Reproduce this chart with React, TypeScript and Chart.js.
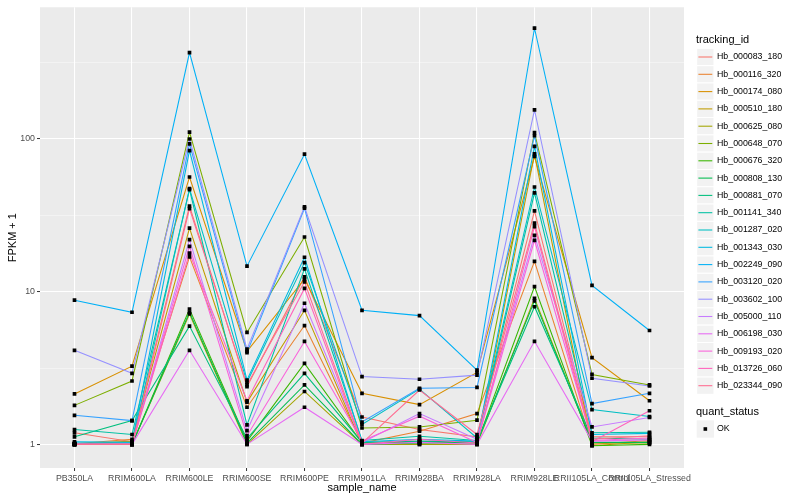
import React, { useEffect, useRef } from "react";
import { Chart, registerables } from "chart.js";

Chart.register(...registerables);

const categories = [
  "PB350LA",
  "RRIM600LA",
  "RRIM600LE",
  "RRIM600SE",
  "RRIM600PE",
  "RRIM901LA",
  "RRIM928BA",
  "RRIM928LA",
  "RRIM928LE",
  "RRII105LA_Control",
  "RRII105LA_Stressed",
];

const trackingIds = [
  "Hb_000083_180",
  "Hb_000116_320",
  "Hb_000174_080",
  "Hb_000510_180",
  "Hb_000625_080",
  "Hb_000648_070",
  "Hb_000676_320",
  "Hb_000808_130",
  "Hb_000881_070",
  "Hb_001141_340",
  "Hb_001287_020",
  "Hb_001343_030",
  "Hb_002249_090",
  "Hb_003120_020",
  "Hb_003602_100",
  "Hb_005000_110",
  "Hb_006198_030",
  "Hb_009193_020",
  "Hb_013726_060",
  "Hb_023344_090",
];

const hueColors = [
  "#F8766D", "#EA8331", "#D89000", "#C09B00", "#A3A500",
  "#7CAE00", "#39B600", "#00BB4E", "#00BF7D", "#00C1A3",
  "#00BFC4", "#00BAE0", "#00B0F6", "#35A2FF", "#9590FF",
  "#C77CFF", "#E76BF3", "#FA62DB", "#FF62BC", "#FF6C91",
];

// FPKM + 1 values per sample (order of categories)
const hb000083 = [1.19, 1.04, 36.4, 2.39, 12.5, 1.51, 1.25, 1.12, 33.8, 1.12, 1.12];
const hb000116 = [1.01, 1.08, 16.9, 1.75, 6.0, 1.02, 1.22, 1.59, 15.8, 1.0, 1.06];
const hb000174 = [2.14, 3.25, 56.4, 4.07, 12.1, 2.16, 1.82, 2.96, 76.8, 3.7, 1.93];
const hb000510 = [1.0, 1.05, 26.1, 1.89, 7.55, 1.0, 1.0, 1.0, 80, 0.98, 1.04];
const hb000625 = [1.0, 1.0, 7.15, 1.0, 2.22, 1.0, 1.0, 1.0, 9.03, 1.02, 1.02];
const hb000648 = [1.8, 2.6, 111, 5.41, 22.8, 1.28, 1.3, 1.44, 110, 2.87, 2.45];
const hb000676 = [1.0, 1.0, 7.7, 1.05, 3.39, 1.02, 1.03, 1.02, 10.8, 0.98, 1.0];
const hb000808 = [1.0, 1.0, 7.33, 1.02, 2.45, 1.0, 1.02, 1.03, 8.71, 1.03, 1.03];
const hb000881 = [1.12, 1.43, 5.95, 1.09, 2.92, 1.03, 1.05, 1.04, 7.97, 1.1, 1.08];
const hb001141 = [1.25, 1.16, 46.6, 1.34, 14.1, 1.06, 1.13, 1.06, 44.4, 1.19, 1.2];
const hb001287 = [1.02, 1.02, 47.4, 2.55, 15.5, 1.35, 2.3, 1.1, 48.5, 1.69, 1.52];
const hb001343 = [1.04, 1.03, 84, 2.64, 16.8, 1.04, 1.08, 1.05, 89.5, 1.16, 1.18];
const hb002249 = [8.8, 7.33, 368, 14.7, 79.5, 7.55, 6.97, 3.06, 532, 11.0, 5.57];
const hb003120 = [1.55, 1.43, 93, 3.99, 35.2, 1.4, 2.33, 2.36, 105, 1.85, 2.16];
const hb003602 = [4.13, 2.92, 100, 4.2, 36, 2.78, 2.67, 2.84, 155, 2.71, 2.41];
const hb005000 = [1.0, 1.0, 21.9, 1.23, 8.4, 1.03, 1.59, 1.08, 23.4, 1.3, 1.5];
const hb006198 = [1.0, 1.0, 4.13, 1.0, 1.75, 1.0, 1.03, 1.0, 4.73, 1.05, 1.07];
const hb009193 = [1.0, 1.0, 19.8, 1.14, 4.72, 1.05, 1.53, 1.03, 21.7, 1.06, 1.1];
const hb013726 = [1.0, 1.0, 17.9, 1.93, 10.5, 1.0, 1.08, 1.02, 26.7, 1.04, 1.66];
const hb023344 = [1.0, 1.0, 35, 2.45, 11.6, 1.02, 2.27, 1.16, 28.1, 1.08, 1.14];

const seriesValues = [
  hb000083, hb000116, hb000174, hb000510, hb000625,
  hb000648, hb000676, hb000808, hb000881, hb001141,
  hb001287, hb001343, hb002249, hb003120, hb003602,
  hb005000, hb006198, hb009193, hb013726, hb023344,
];

const yTickValues = [1, 3.1623, 10, 31.623, 100, 316.23];
const yMajor = [1, 10, 100];
const quantStatus = ["OK"];

const FONT = '"Liberation Sans", Arial, Helvetica, sans-serif';

const isMajor = (v: number | undefined) =>
  v !== undefined && yMajor.some((m) => Math.abs(m - v) < 1e-6);

export default function App() {
  const canvasRef = useRef<HTMLCanvasElement | null>(null);

  useEffect(() => {
    document.body.style.margin = "0";
    const canvas = canvasRef.current;
    if (!canvas) return;

    const lineDatasets = seriesValues.map((vals, i) => ({
      type: "line" as const,
      label: trackingIds[i],
      data: vals.map((v, j) => ({ x: j, y: v })),
      borderColor: hueColors[i],
      backgroundColor: hueColors[i],
      borderWidth: 1.07,
      pointRadius: 0,
      tension: 0,
      fill: false,
      order: 40 - i,
    }));

    const pointDataset = {
      type: "line" as const,
      label: "points",
      data: seriesValues.flatMap((vals) => vals.map((v, j) => ({ x: j, y: v }))),
      showLine: false,
      pointStyle: "rect" as const,
      pointRadius: 2.6,
      pointBackgroundColor: "#000000",
      pointBorderColor: "#000000",
      pointBorderWidth: 0,
      order: 0,
    };

    const bgPlugin = {
      id: "ggBackground",
      beforeDraw(chart: any) {
        const { ctx, chartArea } = chart;
        ctx.save();
        ctx.fillStyle = "#FFFFFF";
        ctx.fillRect(0, 0, chart.width, chart.height);
        ctx.fillStyle = "#EBEBEB";
        ctx.fillRect(
          chartArea.left,
          chartArea.top,
          chartArea.right - chartArea.left,
          chartArea.bottom - chartArea.top
        );
        ctx.restore();
      },
    };

    const legendPlugin = {
      id: "ggLegend",
      afterDraw(chart: any) {
        const ctx = chart.ctx;
        const keyX = 696.7;
        const keySize = 17.28;
        const textX = 717;
        ctx.save();
        ctx.textAlign = "left";
        ctx.textBaseline = "middle";
        ctx.fillStyle = "#000000";
        ctx.font = `11px ${FONT}`;
        ctx.fillText("tracking_id", 696, 40);
        ctx.font = `8.8px ${FONT}`;
        trackingIds.forEach((id, i) => {
          const cy = 57 + i * 17.3;
          ctx.fillStyle = "#F2F2F2";
          ctx.fillRect(keyX, cy - keySize / 2, keySize, keySize);
          ctx.strokeStyle = "#FFFFFF";
          ctx.lineWidth = 1;
          ctx.strokeRect(keyX, cy - keySize / 2, keySize, keySize);
          ctx.strokeStyle = hueColors[i];
          ctx.lineWidth = 1.07;
          ctx.beginPath();
          ctx.moveTo(keyX + 1.7, cy);
          ctx.lineTo(keyX + keySize - 1.7, cy);
          ctx.stroke();
          ctx.fillStyle = "#000000";
          ctx.fillText(id, textX, cy);
        });
        ctx.font = `11px ${FONT}`;
        ctx.fillText("quant_status", 696, 412);
        ctx.font = `8.8px ${FONT}`;
        quantStatus.forEach((q, i) => {
          const cy = 429 + i * 17.3;
          ctx.fillStyle = "#F2F2F2";
          ctx.fillRect(keyX, cy - keySize / 2, keySize, keySize);
          ctx.fillStyle = "#000000";
          ctx.fillRect(keyX + keySize / 2 - 1.8, cy - 1.8, 3.6, 3.6);
          ctx.fillText(q, textX, cy);
        });
        ctx.restore();
      },
    };

    const chart = new Chart(canvas, {
      type: "line",
      data: { datasets: [...lineDatasets, pointDataset] as any },
      options: {
        responsive: false,
        maintainAspectRatio: false,
        animation: false,
        devicePixelRatio: 1,
        layout: { padding: { left: 0, right: 116, top: 5, bottom: 0 } },
        plugins: {
          legend: { display: false },
          tooltip: { enabled: false },
        },
        scales: {
          x: {
            type: "linear",
            min: -0.6,
            max: 10.6,
            afterBuildTicks: (s: any) => {
              s.ticks = categories.map((_, i) => ({ value: i }));
            },
            afterFit: (s: any) => {
              s.height = 32;
            },
            border: { display: false },
            grid: {
              color: "#FFFFFF",
              lineWidth: 1.07,
              drawTicks: true,
              tickLength: 3,
              tickColor: "#333333",
              tickWidth: 1,
            },
            ticks: {
              autoSkip: false,
              maxRotation: 0,
              minRotation: 0,
              padding: 2,
              color: "#4D4D4D",
              font: { family: FONT, size: 8.8 },
              callback: (v: any) => categories[Math.round(Number(v))] ?? "",
            },
            title: {
              display: true,
              text: "sample_name",
              color: "#000000",
              font: { family: FONT, size: 11 },
              padding: { top: 0, bottom: 5 },
            },
          },
          y: {
            type: "logarithmic",
            min: 0.714,
            max: 729,
            afterBuildTicks: (s: any) => {
              s.ticks = yTickValues.map((v) => ({ value: v }));
            },
            afterFit: (s: any) => {
              s.width = 40;
            },
            border: { display: false },
            grid: {
              color: (c: any) => (isMajor(c.tick?.value) ? "#FFFFFF" : "rgba(255,255,255,0.75)"),
              lineWidth: (c: any) => (isMajor(c.tick?.value) ? 1.07 : 0.55),
              drawTicks: true,
              tickLength: 3,
              tickColor: (c: any) => (isMajor(c.tick?.value) ? "#333333" : "rgba(0,0,0,0)"),
              tickWidth: 1,
            },
            ticks: {
              autoSkip: false,
              padding: 2,
              color: "#4D4D4D",
              font: { family: FONT, size: 8.8 },
              callback: (v: any) => {
                const n = Number(v);
                return isMajor(n) ? String(Math.round(n)) : "";
              },
            },
            title: {
              display: true,
              text: "FPKM + 1",
              color: "#000000",
              font: { family: FONT, size: 11 },
              padding: { top: 6, bottom: 0 },
            },
          },
        },
      },
      plugins: [bgPlugin, legendPlugin],
    });

    return () => {
      chart.destroy();
    };
  }, []);

  return (
    <div style={{ width: 800, height: 500, position: "relative" }}>
      <canvas ref={canvasRef} width={800} height={500} style={{ display: "block" }} />
    </div>
  );
}
